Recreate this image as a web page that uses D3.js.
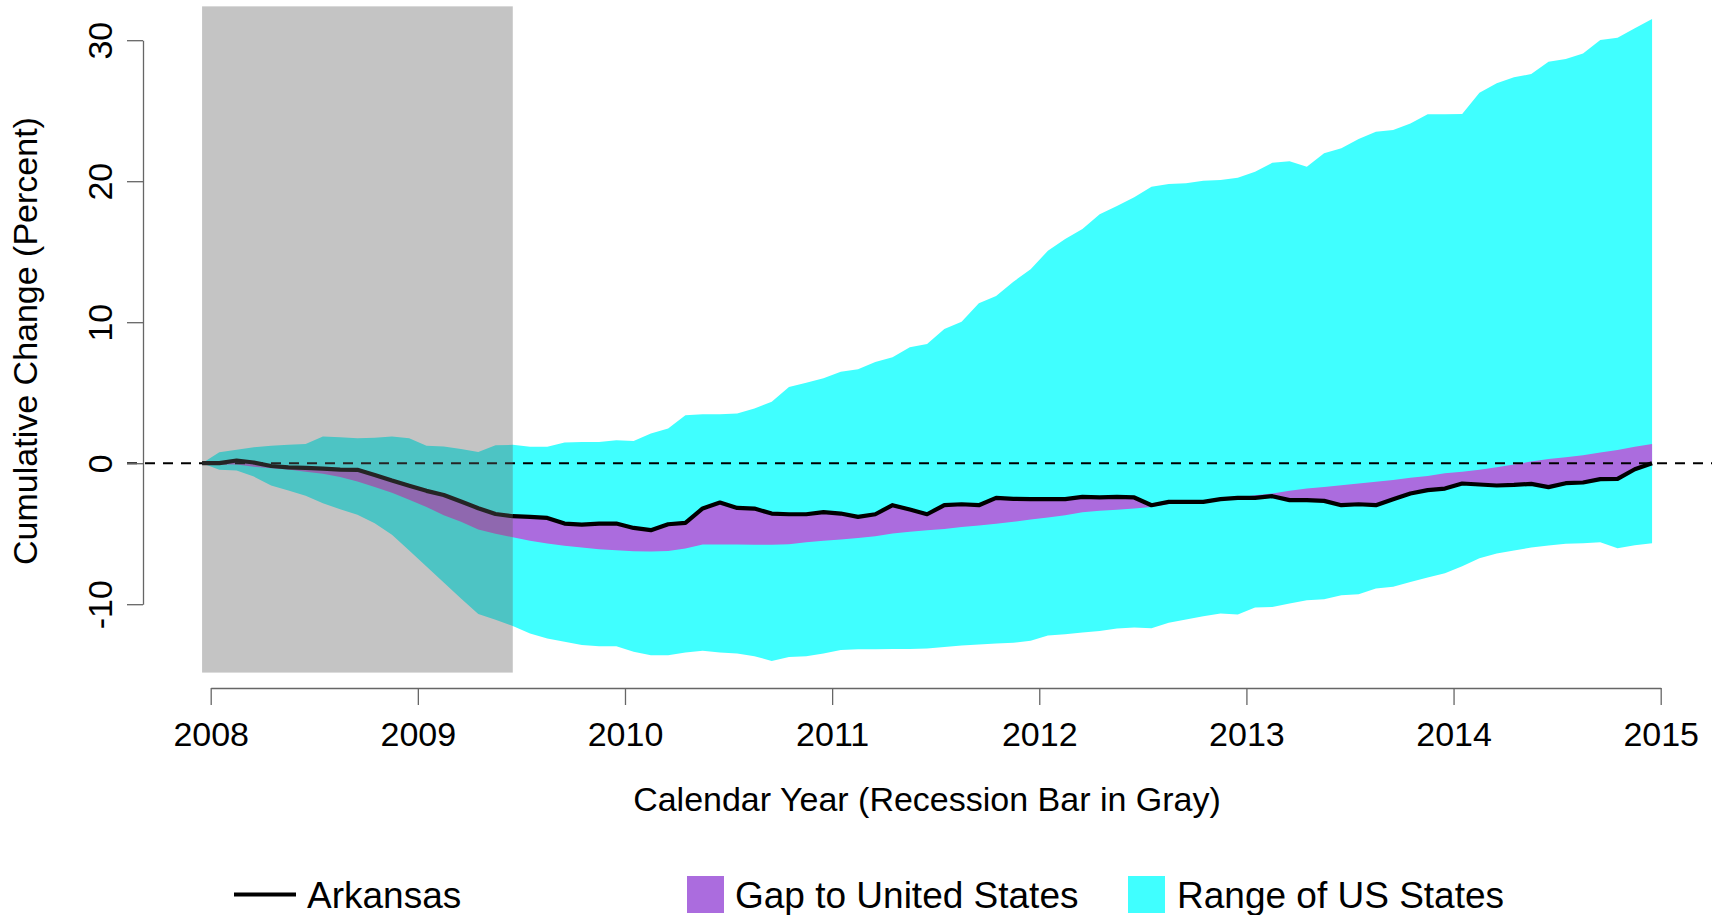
<!DOCTYPE html>
<html><head><meta charset="utf-8">
<script src="https://cdn.jsdelivr.net/npm/d3@7"></script>
<style>
body{margin:0;background:#fff}
svg{display:block}
text{font-family:"Liberation Sans",Arial,Helvetica,sans-serif;fill:#000}
</style>
</head><body>
<svg id="chart" width="1721" height="915"></svg>
<script>
// Monthly observations, Dec 2007 .. Dec 2014 (cumulative % change since Dec 2007)
const firstMonth = {year: 2007, month: 12};
const arkansas = [0,0,0.19,0.05,-0.2,-0.3,-0.33,-0.38,-0.45,-0.47,-0.83,-1.23,-1.6,-1.96,-2.25,-2.72,-3.19,-3.6,
  -3.76,-3.8,-3.88,-4.28,-4.35,-4.28,-4.28,-4.59,-4.75,-4.33,-4.23,-3.21,-2.79,-3.17,-3.22,-3.57,-3.62,-3.62,
  -3.47,-3.57,-3.81,-3.62,-2.98,-3.29,-3.62,-2.98,-2.91,-2.98,-2.46,-2.53,-2.55,-2.55,-2.55,-2.39,-2.43,-2.39,
  -2.43,-2.98,-2.74,-2.74,-2.74,-2.55,-2.46,-2.46,-2.34,-2.62,-2.62,-2.67,-2.98,-2.91,-2.98,-2.55,-2.15,-1.91,
  -1.8,-1.44,-1.51,-1.58,-1.54,-1.47,-1.7,-1.42,-1.37,-1.13,-1.11,-0.43,0];
const unitedStates = [0,-0.1,-0.1,-0.25,-0.35,-0.45,-0.6,-0.75,-0.97,-1.3,-1.68,-2.1,-2.6,-3.1,-3.7,-4.15,-4.7,-5.0,
  -5.25,-5.5,-5.7,-5.86,-5.98,-6.1,-6.17,-6.24,-6.26,-6.22,-6.05,-5.77,-5.77,-5.77,-5.79,-5.79,-5.74,-5.6,
  -5.5,-5.41,-5.3,-5.18,-4.99,-4.87,-4.75,-4.66,-4.52,-4.42,-4.3,-4.16,-4.0,-3.85,-3.69,-3.48,-3.38,-3.31,
  -3.22,-3.1,-2.9,-2.8,-2.68,-2.55,-2.43,-2.27,-2.15,-1.95,-1.8,-1.68,-1.56,-1.44,-1.32,-1.2,-1.04,-0.9,
  -0.72,-0.6,-0.46,-0.29,-0.1,0.12,0.3,0.42,0.57,0.76,0.93,1.16,1.37];
const stateMin = [0,-0.47,-0.52,-0.95,-1.58,-1.94,-2.3,-2.84,-3.26,-3.66,-4.26,-5.08,-6.19,-7.33,-8.46,-9.6,-10.7,-11.1,
  -11.55,-12.08,-12.43,-12.67,-12.9,-12.98,-12.98,-13.38,-13.62,-13.62,-13.43,-13.31,-13.43,-13.5,-13.69,-14.02,-13.74,-13.69,
  -13.5,-13.24,-13.2,-13.2,-13.17,-13.17,-13.14,-13.03,-12.93,-12.86,-12.79,-12.74,-12.6,-12.22,-12.13,-12.01,-11.9,-11.73,
  -11.66,-11.7,-11.32,-11.09,-10.85,-10.66,-10.73,-10.24,-10.19,-9.95,-9.72,-9.65,-9.36,-9.29,-8.89,-8.77,-8.42,-8.11,
  -7.8,-7.3,-6.74,-6.41,-6.19,-5.98,-5.84,-5.72,-5.67,-5.6,-6.03,-5.82,-5.67];
const stateMax = [0,0.78,0.95,1.13,1.23,1.3,1.37,1.89,1.84,1.77,1.8,1.89,1.77,1.23,1.18,1.0,0.8,1.28,
  1.3,1.16,1.16,1.47,1.51,1.51,1.63,1.58,2.1,2.46,3.4,3.47,3.47,3.52,3.88,4.35,5.4,5.7,
  6.02,6.49,6.66,7.18,7.51,8.22,8.45,9.52,10.04,11.34,11.86,12.87,13.75,15.07,15.9,16.61,17.65,18.24,
  18.86,19.6,19.8,19.85,20.04,20.09,20.25,20.67,21.31,21.41,21.03,21.98,22.33,22.99,23.51,23.63,24.1,24.74,
  24.75,24.77,26.28,26.94,27.37,27.6,28.48,28.67,29.05,30.01,30.18,30.84,31.5];
const xTicks = [2008,2009,2010,2011,2012,2013,2014,2015];
const yTicks = [-10,0,10,20,30];
const recessionMonths = [0, 18]; // Dec 2007 .. Jun 2009 (indices into the monthly series)
const xTitle = "Calendar Year (Recession Bar in Gray)";
const yTitle = "Cumulative Change (Percent)";
const legendLabels = ["Arkansas","Gap to United States","Range of US States"];

const colors = {range:"#40ffff", gap:"#ab6cde", line:"#000", rec:"rgba(98,98,98,0.377)", axis:"#666"};

const tOf = i => firstMonth.year + (firstMonth.month - 1 + i + 0.5) / 12;
const rows = arkansas.map((v,i)=>({t:tOf(i), ar:v, us:unitedStates[i], lo:stateMin[i], hi:stateMax[i]}));

const svg = d3.select("#chart");
const x = d3.scaleLinear().domain([2008,2015]).range([210.7,1660.7]);
const y = d3.scaleLinear().domain([-10,30]).range([604.2,40.2]);

// range of states
svg.append("path").datum(rows)
  .attr("d", d3.area().x(d=>x(d.t)).y0(d=>y(d.lo)).y1(d=>y(d.hi)))
  .attr("fill", colors.range);
// gap to US
svg.append("path").datum(rows)
  .attr("d", d3.area().x(d=>x(d.t)).y0(d=>y(d.us)).y1(d=>y(d.ar)))
  .attr("fill", colors.gap);
// zero line
svg.append("line").attr("x1",127).attr("x2",1712).attr("y1",y(0)).attr("y2",y(0))
  .attr("stroke","#000").attr("stroke-width",2).attr("stroke-dasharray","10,8");
// Arkansas
svg.append("path").datum(rows)
  .attr("d", d3.line().x(d=>x(d.t)).y(d=>y(d.ar)))
  .attr("fill","none").attr("stroke",colors.line).attr("stroke-width",4.2).attr("stroke-linejoin","round");
// recession bar
const rx0 = x(tOf(recessionMonths[0])), rx1 = x(tOf(recessionMonths[1]));
svg.append("rect").attr("x",rx0).attr("width",rx1-rx0)
  .attr("y",y(32.4)).attr("height",y(-14.85)-y(32.4)).attr("fill",colors.rec);

const fmt = d => String(d); // plain hyphen-minus like the reference

// x axis
const gx = svg.append("g").attr("transform","translate(0,688)")
  .call(d3.axisBottom(x).tickValues(xTicks).tickFormat(fmt).tickSize(17).tickSizeOuter(0));
gx.select(".domain").attr("stroke",colors.axis).attr("stroke-width",1.3);
gx.selectAll(".tick line").attr("stroke",colors.axis).attr("stroke-width",1.3);
gx.selectAll(".tick text").attr("y",58).attr("dy",null).attr("font-size",34)
  .style("font-family",'"Liberation Sans",Arial,sans-serif').attr("fill","#000");

// y axis
const gy = svg.append("g").attr("transform","translate(143,0)")
  .call(d3.axisLeft(y).tickValues(yTicks).tickFormat(fmt).tickSize(16).tickSizeOuter(0));
gy.select(".domain").attr("stroke",colors.axis).attr("stroke-width",1.3);
gy.selectAll(".tick line").attr("stroke",colors.axis).attr("stroke-width",1.3);
gy.selectAll(".tick text").attr("x",null).attr("dy",null)
  .attr("transform","translate(-31,0) rotate(-90)").attr("text-anchor","middle").attr("y",0)
  .attr("font-size",34).style("font-family",'"Liberation Sans",Arial,sans-serif').attr("fill","#000");

// titles
svg.append("text").attr("x",927).attr("y",811).attr("text-anchor","middle").attr("font-size",34).text(xTitle);
svg.append("text").attr("transform","translate(37,341) rotate(-90)").attr("text-anchor","middle").attr("font-size",34).text(yTitle);

// legend
const ly = 894.5;
svg.append("line").attr("x1",234).attr("x2",296).attr("y1",ly).attr("y2",ly).attr("stroke","#000").attr("stroke-width",4.2);
svg.append("text").attr("x",307).attr("y",ly+13).attr("font-size",37).text(legendLabels[0]);
svg.append("rect").attr("x",687).attr("y",ly-18.5).attr("width",37).attr("height",37).attr("fill",colors.gap);
svg.append("text").attr("x",735).attr("y",ly+13).attr("font-size",37).text(legendLabels[1]);
svg.append("rect").attr("x",1128).attr("y",ly-18.5).attr("width",37).attr("height",37).attr("fill",colors.range);
svg.append("text").attr("x",1177).attr("y",ly+13).attr("font-size",37).text(legendLabels[2]);
</script>
</body></html>
